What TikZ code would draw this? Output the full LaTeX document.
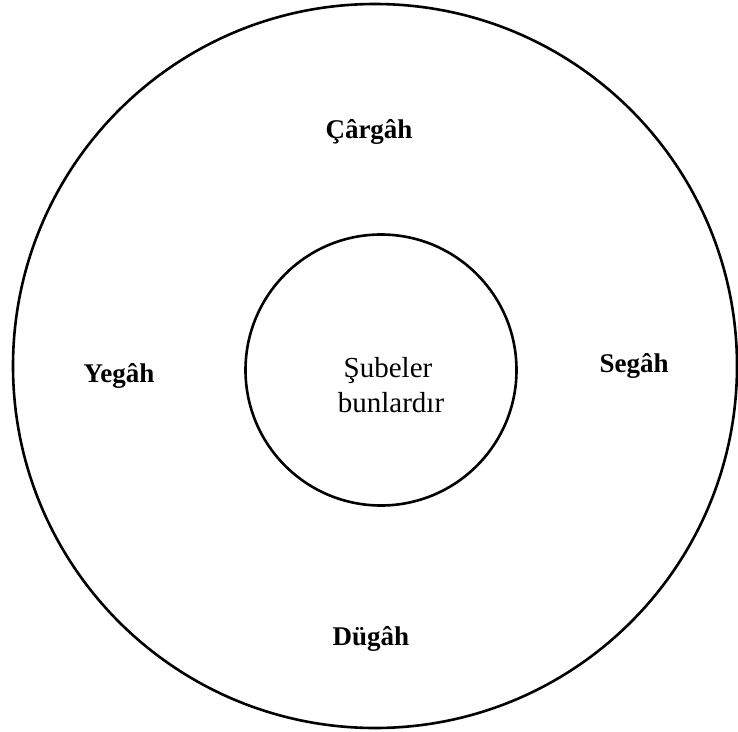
\documentclass[tikz,border=0pt]{standalone}
\usepackage{fontspec}
\setmainfont{Liberation Serif}
\begin{document}
\begin{tikzpicture}[x=1pt,y=-1pt,
  ring/.style={draw=black,line width=2.6pt,circle,inner sep=0pt},
  lbl/.style={font=\fontsize{27}{30}\selectfont\bfseries,inner sep=0pt,anchor=base},
  mid/.style={font=\fontsize{29}{35}\selectfont,inner sep=0pt,anchor=base}]
\useasboundingbox (0,0) rectangle (738,731);
\node[ring,minimum size=724pt] (outer) at (375,366) {};
\node[ring,minimum size=271pt] (inner) at (381,370) {};
\node[mid] (center1) at (388,377) {Şubeler};
\node[mid] (center2) at (391,412) {bunlardır};
\node[lbl] (carg) at (369,138) {Çârgâh};
\node[lbl] (yeg) at (119,382) {Yegâh};
\node[lbl] (seg) at (634,372) {Segâh};
\node[lbl] (dug) at (371,645) {Dügâh};
\end{tikzpicture}
\end{document}
